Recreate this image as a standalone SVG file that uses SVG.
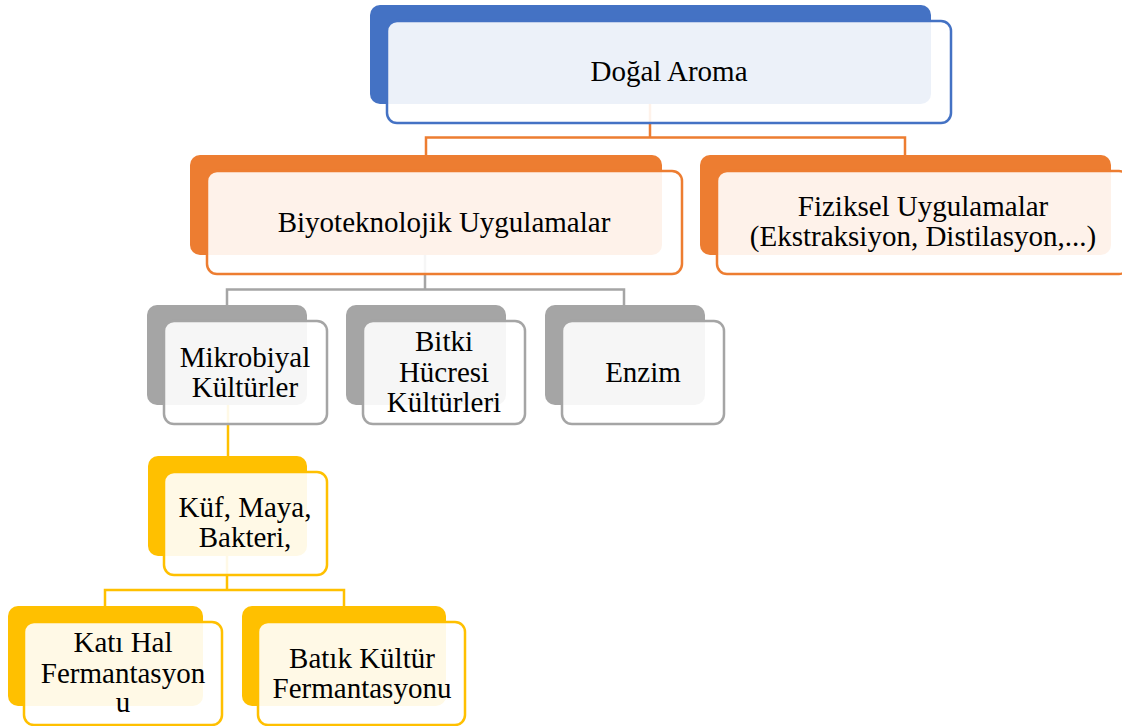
<svg xmlns="http://www.w3.org/2000/svg" width="1122" height="726" viewBox="0 0 1122 726">
<style>
.bk{stroke:none}
.fr{fill:#fff;fill-opacity:0.9;stroke-width:2.5}
.t{font-family:"Liberation Serif","Times New Roman",serif;font-size:29px;fill:#000;text-anchor:middle}
.c{fill:none;stroke-width:2.5}
.blue .bk{fill:#4472C4}.blue .fr{stroke:#4472C4}
.or .bk{fill:#ED7D31}.or .fr{stroke:#ED7D31}
.gr .bk{fill:#A5A5A5}.gr .fr{stroke:#A5A5A5}
.ye .bk{fill:#FFC000}.ye .fr{stroke:#FFC000}
</style>
<rect width="1122" height="726" fill="#fff"/>
<g id="connectors">
<path class="c" stroke="#ED7D31" d="M650,104V137.5M426,155V137.5H905V155"/>
<path class="c" stroke="#A5A5A5" d="M425,255V289.5M227,305V289.5H624V305"/>
<path class="c" stroke="#FFC000" d="M228,404V456"/>
<path class="c" stroke="#FFC000" d="M227,555V590M105,606V590H344V606"/>
</g>
<g id="n1" class="blue">
<rect class="bk" x="370" y="5" width="561" height="99" rx="10"/>
<rect class="fr" x="387" y="21" width="564" height="102" rx="10"/>
<text class="t" x="669" y="81">Doğal Aroma</text>
</g>
<g id="n2" class="or">
<rect class="bk" x="190" y="155" width="472" height="100" rx="10"/>
<rect class="fr" x="207" y="171" width="475" height="103" rx="10"/>
<text class="t" x="444" y="232">Biyoteknolojik Uygulamalar</text>
</g>
<g id="n3" class="or">
<rect class="bk" x="700" y="155" width="411" height="100" rx="10"/>
<rect class="fr" x="717" y="171" width="412" height="103" rx="10"/>
<text class="t" x="923" y="216">Fiziksel Uygulamalar</text>
<text class="t" x="923" y="246">(Ekstraksiyon, Distilasyon,...)</text>
</g>
<g id="n4" class="gr">
<rect class="bk" x="147" y="305" width="160" height="100" rx="10"/>
<rect class="fr" x="164" y="321" width="163" height="103" rx="10"/>
<text class="t" x="245" y="367">Mikrobiyal</text>
<text class="t" x="245" y="397">Kültürler</text>
</g>
<g id="n5" class="gr">
<rect class="bk" x="346" y="305" width="160" height="100" rx="10"/>
<rect class="fr" x="363" y="321" width="162" height="103" rx="10"/>
<text class="t" x="444" y="351">Bitki</text>
<text class="t" x="444" y="381.5">Hücresi</text>
<text class="t" x="444" y="412">Kültürleri</text>
</g>
<g id="n6" class="gr">
<rect class="bk" x="545" y="305" width="160" height="100" rx="10"/>
<rect class="fr" x="562" y="321" width="162" height="103" rx="10"/>
<text class="t" x="643" y="381.5">Enzim</text>
</g>
<g id="n7" class="ye">
<rect class="bk" x="148" y="456" width="159" height="100" rx="10"/>
<rect class="fr" x="164" y="472" width="163" height="103" rx="10"/>
<text class="t" x="245" y="517">Küf, Maya,</text>
<text class="t" x="245" y="547">Bakteri,</text>
</g>
<g id="n8" class="ye">
<rect class="bk" x="8" y="606" width="195" height="100" rx="10"/>
<rect class="fr" x="24" y="622" width="198" height="103" rx="10"/>
<text class="t" x="123" y="652">Katı Hal</text>
<text class="t" x="123" y="682.5">Fermantasyon</text>
<text class="t" x="123" y="712">u</text>
</g>
<g id="n9" class="ye">
<rect class="bk" x="242" y="606" width="204" height="100" rx="10"/>
<rect class="fr" x="258" y="622" width="207" height="103" rx="10"/>
<text class="t" x="362" y="668">Batık Kültür</text>
<text class="t" x="362" y="698">Fermantasyonu</text>
</g>
</svg>
